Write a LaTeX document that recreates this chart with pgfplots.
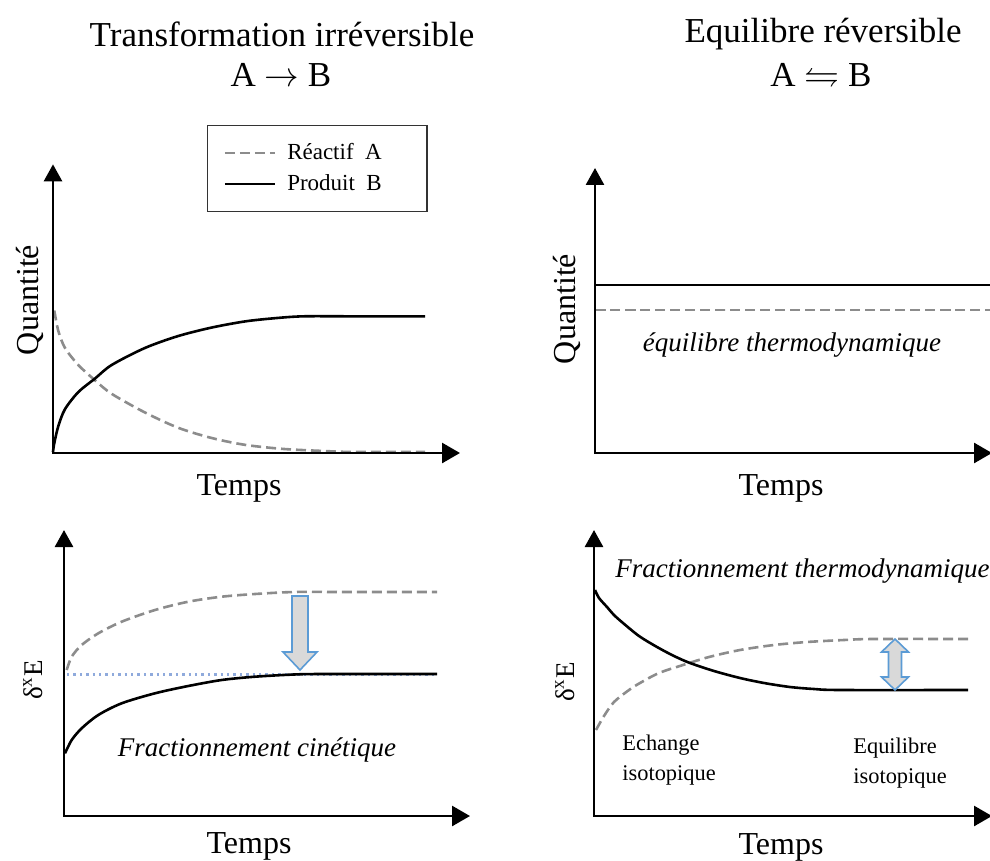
\documentclass[border=0pt]{standalone}
\usepackage{pgfplots}
\pgfplotsset{compat=1.18}
\usepackage{amssymb}
\usepackage{fontspec}
\setmainfont{Liberation Serif}
\usetikzlibrary{arrows.meta}
\definecolor{dgray}{RGB}{140,140,140}
\definecolor{dotblue}{RGB}{143,170,220}
\definecolor{arrblue}{RGB}{91,155,213}
\definecolor{arrfill}{RGB}{217,217,217}
\tikzset{
  axarrow/.style={line width=1.35pt, {Triangle[length=8.5pt,width=9pt]}-{Triangle[length=9pt,width=10pt]}},
  blockarrow/.style={draw=arrblue, fill=arrfill, line width=0.8pt, line join=miter},
}
\pgfplotsset{
  panel/.style={scale only axis, hide axis, clip=false, anchor=south west},
  dashA/.style={dgray, line width=1.3pt, dash pattern=on 5pt off 2.5pt, smooth, tension=0.5},
  solidB/.style={black, line width=1.3pt, smooth, tension=0.5},
}
\begin{document}
\begin{tikzpicture}
\path[use as bounding box] (0,0) rectangle (495pt,-430.5pt);

% Top left
\begin{axis}[panel, at={(26.5pt,-226.5pt)}, width=203.5pt, height=141.5pt,
  xmin=0, xmax=407, ymin=0, ymax=283,
  legend style={at={(0.378,1.1378)}, anchor=north west, draw=black!80, line width=0.8pt,
    font=\fontsize{11.5}{13}\selectfont, inner xsep=8pt, inner ysep=7pt, row sep=2pt,
    nodes={inner ysep=2pt}, cells={anchor=west},
    /tikz/every odd column/.append style={column sep=3.5pt}},
  legend image code/.code={\draw[#1] (0pt,0pt) -- (25pt,0pt);}]
\addplot[dashA] coordinates {(1.3,139.7) (5.3,119.7) (12,103) (25.3,86.3) (42,71.3) (58.7,58) (92,39.7) (125.3,24.7) (158.7,14.7) (192,8) (230,4) (270,2) (300,1) (372,1)};
\addlegendentry{\makebox[60pt][l]{Réactif\ \ A}}
\addplot[solidB] coordinates {(0,1) (1.3,9.7) (5.3,26.3) (12,43) (25.3,59.7) (42,73) (58.7,86.3) (92,103) (125.3,114.7) (158.7,123) (192,129) (220,132) (250,134) (300,134) (372,134)};
\addlegendentry{\makebox[60pt][l]{Produit\ \ B}}
\draw[axarrow] (axis cs:0,283) -- (axis cs:0,0) -- (axis cs:407,0);
\end{axis}

% Top right
\begin{axis}[panel, at={(297.5pt,-226.5pt)}, width=198.5pt, height=142.5pt,
  xmin=0, xmax=397, ymin=0, ymax=285]
\addplot[solidB] coordinates {(0,168) (397,168)};
\addplot[dashA] coordinates {(0,143) (397,143)};
\draw[axarrow] (axis cs:0,285) -- (axis cs:0,0) -- (axis cs:397,0);
\end{axis}

% Bottom left
\begin{axis}[panel, at={(32pt,-408pt)}, width=203pt, height=143pt,
  xmin=0, xmax=406, ymin=0, ymax=286]
\addplot[dotblue, line width=1.2pt, dotted] coordinates {(3,141.7) (373,141.7)};
\addplot[dashA] coordinates {(2.7,146) (7.7,159.3) (17.7,171) (34.3,182.7) (57.7,194.3) (91,206) (124.3,214.3) (157.7,219.3) (191,222) (230,224) (280,224) (373,224)};
\addplot[solidB] coordinates {(1,62.7) (7.7,76) (17.7,87.7) (34.3,101) (57.7,112.7) (91,122.7) (124.3,130) (157.7,136) (191,139.3) (230,141.5) (260,142) (373,142)};
\draw[blockarrow] (axis cs:228,220) -- (axis cs:244,220) -- (axis cs:244,164) -- (axis cs:253,164) -- (axis cs:236,146) -- (axis cs:219,164) -- (axis cs:228,164) -- cycle;
\draw[axarrow] (axis cs:0,286) -- (axis cs:0,0) -- (axis cs:406,0);
\end{axis}

% Bottom right
\begin{axis}[panel, at={(297pt,-408pt)}, width=199pt, height=143pt,
  xmin=0, xmax=398, ymin=0, ymax=286]
\addplot[dashA] coordinates {(2,86) (10,100) (20,114) (35,126) (46,133) (65,143) (89,151) (115,159) (146,166) (180,171) (213,174) (250,176) (279,177) (374,177)};
\addplot[solidB] coordinates {(1,226) (5,218) (13,209) (20,201) (29,193) (45,180) (63,169) (80,160) (96,153) (120,145) (146,138) (170,133) (196,129) (220,127) (246,126) (374,126)};
\draw[blockarrow] (axis cs:301,177) -- (axis cs:314.5,164) -- (axis cs:307.5,164) -- (axis cs:307.5,139) -- (axis cs:314.5,139) -- (axis cs:301,126) -- (axis cs:287.5,139) -- (axis cs:294.5,139) -- (axis cs:294.5,164) -- (axis cs:287.5,164) -- cycle;
\draw[axarrow] (axis cs:0,286) -- (axis cs:0,0) -- (axis cs:398,0);
\end{axis}

\begin{scope}[x=0.5pt, y=-0.5pt]
\node[font=\fontsize{17.5}{21}\selectfont] at (282,34) {Transformation irréversible};
\node[font=\fontsize{17.5}{21}\selectfont] at (281,75) {A \(\rightarrow\) B};
\node[font=\fontsize{17.5}{21}\selectfont] at (823,34) {Equilibre réversible};
\node[font=\fontsize{17.5}{21}\selectfont] at (821,75) {A \(\leftrightharpoons\) B};
% axis labels
\node[font=\fontsize{16}{19}\selectfont, rotate=90] at (30,300) {Quantité};
\node[font=\fontsize{16}{19}\selectfont, rotate=90] at (567,309) {Quantité};
\node[font=\fontsize{16}{19}\selectfont] at (239,488) {Temps};
\node[font=\fontsize{16}{19}\selectfont] at (781,488) {Temps};
\node[font=\fontsize{16}{19}\selectfont] at (249,846) {Temps};
\node[font=\fontsize{16}{19}\selectfont] at (781,847) {Temps};
\node[font=\fontsize{13.5}{16}\selectfont, rotate=90] at (33,680) {δ\textsuperscript{x}E};
\node[font=\fontsize{13.5}{16}\selectfont, rotate=90] at (565,682) {δ\textsuperscript{x}E};
% annotations
\node[font=\fontsize{13.5}{16}\selectfont\itshape] at (792,345) {équilibre thermodynamique};
\node[font=\fontsize{13.5}{16}\selectfont\itshape] at (257,750) {Fractionnement cinétique};
\node[font=\fontsize{13.5}{16}\selectfont\itshape, anchor=west, inner sep=0pt] at (615,571) {Fractionnement thermodynamique};
\node[font=\fontsize{11.2}{15}\selectfont, anchor=west, align=left, inner sep=0pt] at (622,760) {Echange\\isotopique};
\node[font=\fontsize{11.2}{15}\selectfont, anchor=west, align=left, inner sep=0pt] at (853,763) {Equilibre\\isotopique};
\end{scope}
\end{tikzpicture}
\end{document}
